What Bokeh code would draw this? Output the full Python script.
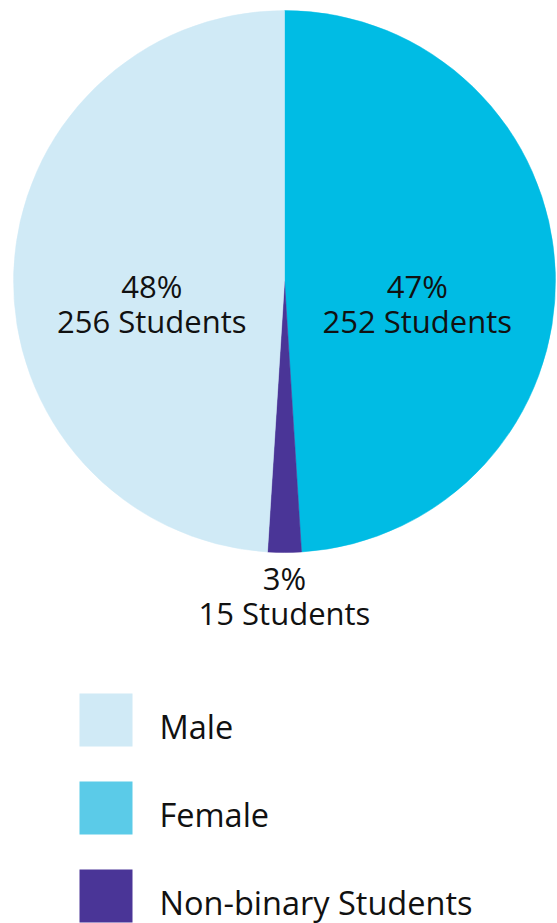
import math
from bokeh.plotting import figure
from bokeh.models import Range1d, ColumnDataSource
from bokeh.core.properties import value
from bokeh.embed import file_html
from bokeh.resources import INLINE

# ---- data ----
categories = ["Female", "Non-binary Students", "Male"]      # clockwise from 12 o'clock
slice_share = [49.0, 2.0, 49.0]                              # angular share of each slice (%)
pct_labels = ["47%", "3%", "48%"]
count_labels = ["252 Students", "15 Students", "256 Students"]
slice_colors = ["#00BCE4", "#4A3597", "#D0EAF6"]

legend_names = ["Male", "Female", "Non-binary Students"]
legend_colors = ["#D0EAF6", "#5BCBE8", "#4A3597"]

# ---- layout ----
W, H = 557, 923
CX, CY, R = 284, 642, 271          # pie centre / radius (data units = pixels)
FONT = "Open Sans"
TXT_FIX = 11                       # baseline correction for rendered text

p = figure(width=W, height=H, output_backend="svg", toolbar_location=None,
           x_range=Range1d(0, W), y_range=Range1d(0, H), min_border=0)
p.axis.visible = False
p.grid.visible = False
p.outline_line_color = None
p.background_fill_color = "white"
p.border_fill_color = "white"

total = sum(slice_share)
starts, ends, mids = [], [], []
a = math.pi / 2
for s in slice_share:
    span = 2 * math.pi * s / total
    starts.append(a)
    ends.append(a - span)
    mids.append(a - span / 2)
    a -= span

src = ColumnDataSource(dict(x=[CX] * 3, y=[CY] * 3, start=starts, end=ends,
                            color=slice_colors, cat=categories))
p.wedge(x="x", y="y", radius=R, start_angle="start", end_angle="end",
        direction="clock", fill_color="color", line_color="color", line_width=0.5,
        source=src)

# slice labels: anchor along the mid-angle, two lines below anchor
lx, ly1, ly2 = [], [], []
for i, m in enumerate(mids):
    rr = R * 0.49 if slice_share[i] > 10 else R + 16
    ax = CX + rr * math.cos(m)
    ay = CY + rr * math.sin(m)
    lx.append(ax)
    ly1.append(ay - 20 + TXT_FIX)
    ly2.append(ay - 55 + TXT_FIX)

lab = ColumnDataSource(dict(x=lx, y1=ly1, y2=ly2, pct=pct_labels, cnt=count_labels))
for ycol, tcol in (("y1", "pct"), ("y2", "cnt")):
    p.text(x="x", y=ycol, text=tcol, source=lab, text_align="center",
           text_baseline="alphabetic", text_font=value(FONT),
           text_font_size="31px", text_color="#111111")

# legend
sq_x, sq_size, txt_x = 105.5, 53, 159
step = 88
leg_y = [203.5 - step * i for i in range(3)]
txt_y = [186 + TXT_FIX - step * i for i in range(3)]
leg = ColumnDataSource(dict(x=[sq_x] * 3, y=leg_y, tx=[txt_x] * 3, ty=txt_y,
                            name=legend_names, color=legend_colors))
p.rect(x="x", y="y", width=sq_size, height=sq_size, fill_color="color",
       line_color=None, source=leg)
p.text(x="tx", y="ty", text="name", source=leg, text_align="left",
       text_baseline="alphabetic", text_font=value(FONT),
       text_font_size="32.5px", text_color="#111111")

open("out.html", "w").write(file_html(p, INLINE))
